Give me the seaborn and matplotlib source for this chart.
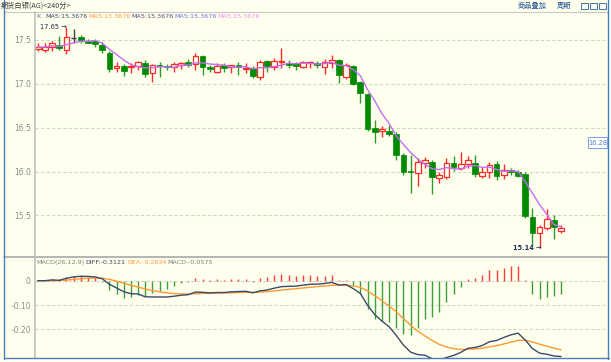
import numpy as np
import pandas as pd
import matplotlib
matplotlib.use("Agg")
import matplotlib.pyplot as plt
import seaborn as sns
from matplotlib.lines import Line2D
from matplotlib.patches import Rectangle

# ---------------- data ----------------
opens = [17.40, 17.38, 17.42, 17.44, 17.39, 17.52, 17.53, 17.49, 17.49, 17.44,
         17.35, 17.18, 17.20, 17.19, 17.20, 17.24, 17.12, 17.22, 17.205, 17.195,
         17.21, 17.245, 17.225, 17.32, 17.19, 17.13, 17.215, 17.19, 17.215, 17.17,
         17.18, 17.075, 17.26, 17.195, 17.25, 17.24, 17.235, 17.195, 17.238, 17.24,
         17.19, 17.235, 17.27, 17.075, 17.205, 17.025, 16.885, 16.495, 16.46, 16.465,
         16.43, 16.19, 16.005, 15.98, 16.095, 16.11, 15.925, 15.94, 16.095, 16.04,
         16.085, 16.095, 15.95, 15.99, 16.085, 15.96, 16.02, 16.00, 15.97, 15.48,
         15.30, 15.355, 15.445, 15.325]
highs = [17.46, 17.46, 17.49, 17.54, 17.65, 17.62, 17.56, 17.51, 17.51, 17.48,
         17.37, 17.25, 17.23, 17.24, 17.26, 17.27, 17.23, 17.25, 17.23, 17.245,
         17.25, 17.28, 17.355, 17.325, 17.215, 17.235, 17.235, 17.215, 17.25, 17.235,
         17.20, 17.27, 17.27, 17.29, 17.405, 17.27, 17.25, 17.255, 17.26, 17.265,
         17.28, 17.33, 17.28, 17.235, 17.215, 17.03, 16.89, 16.59, 16.52, 16.53,
         16.445, 16.21, 16.19, 16.15, 16.16, 16.13, 15.99, 16.15, 16.175, 16.225,
         16.175, 16.19, 16.055, 16.11, 16.125, 16.085, 16.04, 16.02, 16.00, 15.58,
         15.39, 15.575, 15.505, 15.39]
lows = [17.37, 17.36, 17.37, 17.39, 17.34, 17.46, 17.47, 17.46, 17.42, 17.35,
        17.14, 17.13, 17.09, 17.12, 17.16, 17.08, 17.02, 17.08, 17.16, 17.14,
        17.17, 17.195, 17.16, 17.10, 17.14, 17.12, 17.14, 17.12, 17.10, 17.12,
        17.07, 17.045, 17.14, 17.16, 17.18, 17.18, 17.16, 17.175, 17.18, 17.18,
        17.11, 17.18, 17.005, 17.06, 16.985, 16.78, 16.465, 16.33, 16.39, 16.41,
        16.13, 15.96, 15.76, 15.84, 16.04, 15.745, 15.865, 15.92, 16.01, 16.02,
        16.04, 15.935, 15.925, 15.93, 15.905, 15.91, 15.96, 15.94, 15.47, 15.15,
        15.14, 15.33, 15.235, 15.296]
closes = [17.42, 17.42, 17.46, 17.41, 17.53, 17.52, 17.50, 17.47, 17.45, 17.38,
          17.17, 17.20, 17.15, 17.20, 17.25, 17.11, 17.21, 17.20, 17.195, 17.225,
          17.235, 17.215, 17.32, 17.195, 17.165, 17.205, 17.18, 17.21, 17.19, 17.185,
          17.09, 17.245, 17.205, 17.26, 17.26, 17.21, 17.205, 17.245, 17.246, 17.215,
          17.245, 17.27, 17.095, 17.21, 16.995, 16.89, 16.485, 16.455, 16.48, 16.43,
          16.185, 16.00, 15.99, 16.105, 16.13, 15.935, 15.955, 16.095, 16.055, 16.085,
          16.13, 15.97, 15.995, 16.075, 15.95, 16.02, 16.00, 15.95, 15.495, 15.30,
          15.365, 15.455, 15.365, 15.36]

price_ticks = [17.5, 17.0, 16.5, 16.0, 15.5]
price_tick_labels = ["17.5", "17.0", "16.5", "16.0", "15.5"]
macd_ticks = [0.0, -0.10, -0.20]
macd_tick_labels = ["0", "-0.10", "-0.20"]

title_text = "期货白银(AG)<240分>"
ma_legend = ["MA5:15.3676"] * 5
macd_legend = ["MACD(26,12,9)", "DIFF:-0.3121", "DEA:-0.2834", "MACD:-0.0575"]
high_label = "17.65 \u2192"
low_label = "15.14 \u2192"
cursor_label = "16.28"

# ---------------- styling ----------------
sns.set_style("white")
plt.rcParams["font.family"] = ["DejaVu Sans", "Noto Sans CJK SC"]

BG = "#FFFFEE"
RED = "#FF2A2A"
GREEN = "#008A00"
W, H = 611, 362

fig = plt.figure(figsize=(W / 100, H / 100), dpi=100, facecolor=BG)

def fx(px):
    return px / W

def fy(py):
    return 1 - py / H

AX_L, AX_R = 35, 607
ax1 = fig.add_axes([fx(AX_L), fy(256.5), (AX_R - AX_L) / W, (256.5 - 12) / H])
ax2 = fig.add_axes([fx(AX_L), fy(358), (AX_R - AX_L) / W, (358 - 257.5) / H])
for ax in (ax1, ax2):
    ax.set_facecolor(BG)
    for s in ax.spines.values():
        s.set_visible(False)
    ax.tick_params(axis="both", length=0, pad=3, labelsize=5.5, labelcolor="#8C8C8C")
    ax.set_xticks([])

df = pd.DataFrame({"open": opens, "high": highs, "low": lows, "close": closes})
df["idx"] = np.arange(len(df))
n = len(df)

ax1.set_xlim(-0.377, 79.4)
ax2.set_xlim(-0.377, 79.4)
ax1.set_ylim(15.031, 17.819)
ax2.set_ylim(-0.318, 0.0955)

grid_kw = dict(color="#D4D4C8", lw=0.8, ls=(0, (3, 2)), zorder=0)
for t in price_ticks:
    ax1.axhline(t, **grid_kw)
for t in macd_ticks:
    ax2.axhline(t, **grid_kw)
ax1.set_yticks(price_ticks, price_tick_labels)
ax2.set_yticks(macd_ticks, macd_tick_labels)

# ---------------- candles ----------------
cols = np.where(df.close > df.open, RED, np.where(df.close < df.open, GREEN, "#404040"))
ax1.vlines(df.idx, df.low, df.high, colors=[c if c != GREEN else "#2E9A2E" for c in cols],
           lw=1.0, zorder=2)
up = df[df.close > df.open]
dn = df[df.close < df.open]
fl = df[df.close == df.open]
ax1.bar(up.idx, up.close - up.open, bottom=up.open, width=0.8,
        facecolor=BG, edgecolor=RED, lw=0.9, zorder=3)
ax1.bar(dn.idx, dn.close - dn.open, bottom=dn.open, width=0.8,
        facecolor=GREEN, edgecolor=GREEN, lw=0.5, zorder=3)
ax1.hlines(fl.open, fl.idx - 0.4, fl.idx + 0.4, colors="#404040", lw=1.0, zorder=3)

# MA5
df["ma5"] = df.close.rolling(5, min_periods=1).mean()
sns.lineplot(data=df, x="idx", y="ma5", ax=ax1, color="#C070F0", lw=1.0,
             legend=False, zorder=4)
ax1.set_xlabel("")
ax1.set_ylabel("")

# ---------------- MACD ----------------
ema12 = df.close.ewm(span=12, adjust=False).mean()
ema26 = df.close.ewm(span=26, adjust=False).mean()
df["diff"] = ema12 - ema26
df["dea"] = df["diff"].ewm(span=9, adjust=False).mean()
df["macd"] = 2 * (df["diff"] - df["dea"])
hcols = np.where(df.macd >= 0, "#FF3B3B", "#3AA03A")
ax2.vlines(df.idx, 0, df.macd, colors=hcols, lw=1.0, zorder=2)
sns.lineplot(data=df, x="idx", y="dea", ax=ax2, color="#FF9A30", lw=1.0,
             legend=False, zorder=3)
sns.lineplot(data=df, x="idx", y="diff", ax=ax2, color="#3A4A6A", lw=1.0,
             legend=False, zorder=4)
ax2.set_xlabel("")
ax2.set_ylabel("")

# ---------------- texts ----------------
LF = 4.6
fig.text(fx(36), fy(16), "K", fontsize=LF, color="#707070", va="center")
ma_cols = ["#3A4A6A", "#FF9A40", "#5A4A7A", "#7070E8", "#EE90EE"]
ma_x = [45, 88, 131, 174, 217]
for xx, t, c in zip(ma_x, ma_legend, ma_cols):
    fig.text(fx(xx), fy(16), t, fontsize=LF, color=c, va="center")

macd_x = [36, 85, 127, 167]
macd_cols = ["#808080", "#3A4A6A", "#FF9A40", "#808080"]
for xx, t, c in zip(macd_x, macd_legend, macd_cols):
    fig.text(fx(xx), fy(262.5), t, fontsize=LF, color=c, va="center")

fig.text(fx(40), fy(27), high_label, fontsize=4.8, color="#1F2F5F", va="center")
fig.text(fx(513), fy(247.5), low_label, fontsize=4.8, color="#1F2F5F", va="center",
         fontweight="bold")

fig.text(fx(1), fy(5.5), title_text, fontsize=5.2, color="#404040", va="center",
         family=["Noto Sans CJK SC", "DejaVu Sans"])
fig.text(fx(518), fy(5.5), "商品叠加", fontsize=5.2, color="#1B4F8F", va="center",
         family=["Noto Sans CJK SC", "DejaVu Sans"])
fig.text(fx(557), fy(5.5), "周期", fontsize=5.2, color="#1B4F8F", va="center",
         family=["Noto Sans CJK SC", "DejaVu Sans"])
for bx in [581, 590, 599]:
    fig.add_artist(Rectangle((fx(bx), fy(9)), 7 / W, 6 / H, transform=fig.transFigure,
                             facecolor="none", edgecolor="#2060A0", lw=0.6))

# cursor price tag
fig.add_artist(Rectangle((fx(588), fy(148)), 19 / W, 11 / H, transform=fig.transFigure,
                         facecolor="#FFFFFF", edgecolor="#7AA0E8", lw=0.7, zorder=5))
fig.text(fx(597.5), fy(142.5), cursor_label, fontsize=4.8, color="#5A80D0",
         ha="center", va="center", zorder=6)

# frame & separators
def fline(x0, y0, x1, y1, color, lw):
    fig.add_artist(Line2D([fx(x0), fx(x1)], [fy(y0), fy(y1)], transform=fig.transFigure,
                          color=color, lw=lw))

fline(4, 11.7, 607, 11.7, "#C8C8C8", 0.8)
fline(4, 256.8, 607, 256.8, "#B4B4B4", 1.4)
fline(34.5, 12, 34.5, 358, "#C0C0C0", 1.2)
fline(4.3, 0, 4.3, 358.5, "#4A7CC8", 1.0)
fline(608, 0, 608, 358.5, "#4A7CC8", 1.0)
fline(4, 358.3, 608.5, 358.3, "#4A7CC8", 1.0)

fig.savefig("out.png", dpi=100, facecolor=BG)
